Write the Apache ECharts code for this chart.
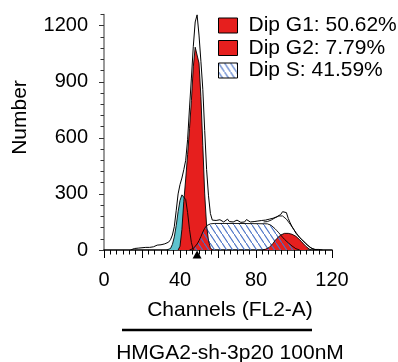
<!DOCTYPE html>
<html>
<head>
<meta charset="utf-8">
<script src="https://cdn.jsdelivr.net/npm/echarts@6/dist/echarts.min.js"></script>
<style>
html,body{margin:0;padding:0;background:#fff;}
#chart{width:398px;height:362px;}
</style>
</head>
<body>
<div id="chart"></div>
<script>
// ---- data (channel / count) ----
const xTickLabels = [0, 40, 80, 120];
const yTickLabels = [0, 300, 600, 900, 1200];

const cyanCh = [33,34,35,36,37,38,39,40,41,42,43,44,45,46,47];
const cyanV  = [0, 0, 8, 30, 70,130,205,265,295,300,270,200,110,40, 0];

const g1Ch = [39,40,41,42,43,44,45,46,47,48,49,50,51,52,53,54,55,56,57];
const g1V  = [0,20,110,260,380,510,650,800,980,1085,1090,1000,820,560,300,130,50,12,0];

const g2Ch = [83,85,87,88,89,90,91,92,93,94,95,96,97,98,99,100,101,102,103,104,105,106,107,108,109];
const g2V  = [0, 4,14,24,36,50,62,72,80,86,89,90,89,87,84,79,73,65,55,44,33,22,12,5,0];

const sCh = [45,46,47,48,49,50,51,52,53,54,55,56,58,70,80,86,87,88,89,90,91,92,93,94,95,96,97,98,99,100,101,102,103];
const sV  = [0, 3, 8,18,32,50,72,96,116,130,137,140,142,142,141,140,137,132,124,114,103,92,80,68,57,47,38,29,21,14,7,2,0];

const fitCh = [84,86,88,90,92,93,94,95,96,98,100,102,104,106,108,110,112];
const fitV  = [150,152,160,172,182,184,182,175,165,138,108,80,56,35,18,6,0];

const envCh = [14,15,16,17,18,19,20,21,22,23,24,25,26,27,28,29,30,31,32,33,34,35,36,37,38,39,40,41,42,43,44,45,46,47,48,49,50,51,52,53,54,55,56,57,58,59,60,61,62,63,64,65,66,67,68,69,70,71,72,73,74,75,76,77,78,79,80,81,82,83,84,85,86,87,88,89,90,91,92,93,94,95,96,97,98,99,100,101,102,103,104,105,106,107,108,109,110,111,112,113,114,115];
const envV  = [0,3,8,6,10,8,12,11,14,17,14,19,17,22,26,23,28,30,33,36,42,55,80,125,210,300,350,385,430,480,590,760,920,1090,1220,1258,1150,1010,860,640,430,290,195,160,152,158,150,162,155,150,158,165,152,157,150,155,160,152,148,156,150,163,155,150,158,152,160,155,150,158,154,160,156,165,160,170,168,178,185,190,205,215,200,168,145,125,108,90,78,66,58,48,38,28,18,10,5,3,1,3,2,0];

const arrowChannel = 49;

const legendNames = ['Dip G1: 50.62%', 'Dip G2: 7.79%', 'Dip S: 41.59%'];

// ---- styles ----
const RED = '#e61f1e';
const CYAN = '#5ec3ce';
const FONT = "'Liberation Sans', Arial, sans-serif";

const tile = document.createElement('canvas');
tile.width = 6; tile.height = 9;
const tctx = tile.getContext('2d');
tctx.strokeStyle = '#4a72c6';
tctx.lineWidth = 1.1;
tctx.beginPath(); tctx.moveTo(-1, -1.5); tctx.lineTo(7, 10.5); tctx.stroke();
const hatch = { image: tile, repeat: 'repeat' };

function pairs(xs, ys) { return xs.map((x, i) => [x, ys[i]]); }

const chart = echarts.init(document.getElementById('chart'), null, { renderer: 'canvas' });

const areaSeries = (name, xs, ys, fill) => ({
  name: name, type: 'line', data: pairs(xs, ys), showSymbol: false, symbol: 'none',
  xAxisIndex: 0, yAxisIndex: 0,
  lineStyle: { color: '#000', width: 0.9 },
  itemStyle: { color: fill },
  areaStyle: { color: fill, opacity: 1 },
  silent: true
});

chart.setOption({
  animation: false,
  backgroundColor: '#fff',
  textStyle: { fontFamily: FONT },
  grid: { left: 104, right: 66, top: 14.5, bottom: 112 },
  legend: {
    orient: 'vertical', left: 218, top: 15, padding: 0,
    itemWidth: 19, itemHeight: 15, itemGap: 1.5, icon: 'rect', selectedMode: false,
    textStyle: { fontSize: 21, lineHeight: 21, color: '#000', fontFamily: FONT, padding: [0,0,0,6] },
    data: [
      { name: legendNames[0], itemStyle: { color: RED, borderColor: '#000', borderWidth: 1 } },
      { name: legendNames[1], itemStyle: { color: RED, borderColor: '#000', borderWidth: 1 } },
      { name: legendNames[2], itemStyle: { color: hatch, borderColor: '#000', borderWidth: 1 } }
    ]
  },
  xAxis: [{
    type: 'value', min: 0, max: 120, interval: 20,
    axisLine: { show: true, onZero: false, lineStyle: { color: '#000', width: 1.5 } },
    axisTick: { show: true, length: 8, lineStyle: { color: '#000', width: 1 } },
    minorTick: { show: true, splitNumber: 6, length: 4.5, lineStyle: { color: '#000', width: 1 } },
    axisLabel: { margin: 20, fontSize: 20, color: '#000', fontFamily: FONT,
      formatter: v => (xTickLabels.indexOf(v) >= 0 ? String(v) : '') },
    splitLine: { show: false }, minorSplitLine: { show: false }
  }],
  yAxis: [{
    type: 'value', min: 0, max: 1260, interval: 300, position: 'left',
    axisLine: { show: true, lineStyle: { color: '#808080', width: 1.6 } },
    axisTick: { show: true, length: 5, lineStyle: { color: '#333', width: 1 } },
    axisLabel: { margin: 16, fontSize: 20, color: '#000', fontFamily: FONT, showMaxLabel: false,
      formatter: v => (yTickLabels.indexOf(v) >= 0 ? String(v) : '') },
    splitLine: { show: false }
  }, {
    type: 'value', min: 0, max: 1260, interval: 60, position: 'left',
    axisLine: { show: false },
    axisTick: { show: true, length: 3.5, lineStyle: { color: '#333', width: 1 } },
    axisLabel: { show: false },
    splitLine: { show: false }
  }],
  series: [
    areaSeries('cyan', cyanCh, cyanV, CYAN),
    areaSeries(legendNames[0], g1Ch, g1V, RED),
    areaSeries(legendNames[1], g2Ch, g2V, RED),
    areaSeries(legendNames[2], sCh, sV, hatch),
    { name: 'fit', type: 'line', data: pairs(fitCh, fitV), showSymbol: false, symbol: 'none',
      lineStyle: { color: '#000', width: 0.9 }, silent: true },
    { name: 'data', type: 'line', data: pairs(envCh, envV), showSymbol: false, symbol: 'none',
      lineStyle: { color: '#000', width: 1 }, silent: true,
      markPoint: {
        silent: true,
        data: [{ coord: [arrowChannel, 0], symbol: 'triangle', symbolSize: [9, 8], symbolOffset: [0, 4.5],
                 itemStyle: { color: '#000' }, label: { show: false } }]
      }
    }
  ],
  graphic: [
    { type: 'text', x: 20, y: 117.5, rotation: Math.PI / 2,
      style: { text: 'Number', fontSize: 21, fontFamily: FONT, fill: '#000', align: 'center', verticalAlign: 'middle' } },
    { type: 'text', x: 230, y: 310.7,
      style: { text: 'Channels (FL2-A)', fontSize: 21, fontFamily: FONT, fill: '#000', align: 'center', verticalAlign: 'middle' } },
    { type: 'line', shape: { x1: 122, y1: 330, x2: 312, y2: 330 }, style: { stroke: '#000', lineWidth: 2.5 } },
    { type: 'text', x: 230, y: 353.5,
      style: { text: 'HMGA2-sh-3p20 100nM', fontSize: 21, fontFamily: FONT, fill: '#000', align: 'center', verticalAlign: 'middle' } }
  ]
});
</script>
</body>
</html>
